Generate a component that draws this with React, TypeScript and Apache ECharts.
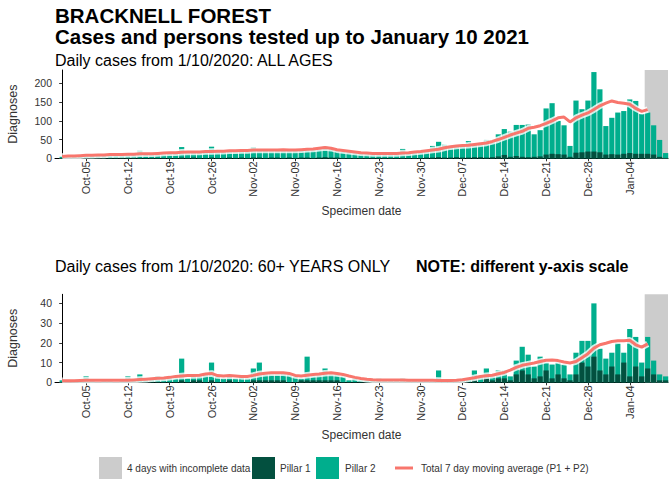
import React, { useEffect, useRef } from 'react';
import * as echarts from 'echarts';

// ---- data (day index 0 = 1 Oct 2020, last = 10 Jan 2021) ----
const startDate = '2020-10-01';
const tickLabels = ['Oct-05', 'Oct-12', 'Oct-19', 'Oct-26', 'Nov-02', 'Nov-09', 'Nov-16', 'Nov-23', 'Nov-30', 'Dec-07', 'Dec-14', 'Dec-21', 'Dec-28', 'Jan-04'];
const incompleteDates = ['Jan-07', 'Jan-08', 'Jan-09', 'Jan-10'];

// ALL AGES: total daily cases (Pillar 1 + Pillar 2) and Pillar 1 part
const totalAll = [
  4, 5, 7, 6, 8, 9, 7, 10, 9, 11,
  8, 10, 12, 20, 11, 12, 13, 10, 14, 13,
  30, 15, 16, 14, 17, 31, 18, 17, 19, 16,
  20, 18, 30, 22, 21, 19, 22, 20, 23, 21,
  22, 24, 22, 25, 32, 28, 20, 17, 18, 14,
  12, 11, 13, 12, 10, 14, 12, 25, 13, 15,
  18, 20, 33, 44, 36, 33, 35, 37, 46, 37,
  40, 49, 46, 64, 78, 71, 89, 89, 90, 64,
  75, 133, 147, 100, 88, 33, 154, 131, 154, 230,
  184, 86, 108, 122, 126, 157, 153, 118, 122, 88, 49, 14,
];
const pillar1All = [
  0, 0, 1, 0, 0, 1, 0, 0, 1, 0,
  0, 1, 0, 1, 0, 1, 1, 0, 1, 1,
  2, 1, 2, 1, 1, 2, 1, 1, 2, 1,
  2, 1, 2, 2, 1, 2, 2, 1, 2, 1,
  2, 2, 1, 2, 3, 2, 2, 1, 1, 1,
  1, 1, 0, 1, 1, 1, 0, 1, 1, 1,
  1, 2, 2, 3, 2, 2, 3, 2, 2, 3,
  3, 2, 3, 5, 9, 4, 6, 4, 3, 4,
  5, 10, 12, 11, 10, 4, 15, 16, 18, 18,
  16, 10, 11, 10, 12, 14, 12, 12, 12, 10, 4, 1,
];
const avgAll = [
  5, 6, 6, 7, 8, 8, 9, 9, 10, 10,
  10, 11, 11, 12, 12, 12, 13, 14, 15, 15,
  16, 17, 17, 17, 18, 18, 19, 19, 20, 20,
  21, 21, 22, 22, 22, 22, 22, 23, 22, 22,
  23, 24, 25, 27, 29, 27, 23, 21, 19, 17,
  15, 14, 13, 13, 13, 13, 13, 14, 15, 17,
  18, 20, 22, 24, 28, 31, 33, 34, 35, 37,
  39, 41, 45, 50, 56, 62, 67, 72, 80, 83,
  87, 93, 100, 108, 110, 97, 108, 115, 121, 130,
  140, 147, 153, 149, 147, 144, 133, 125, 130,
];

// 60+ YEARS ONLY
const totalOld = [
  1, 0, 1, 1, 3, 1, 0, 1, 1, 0,
  1, 3, 1, 4, 1, 2, 3, 2, 3, 2,
  12, 2, 3, 3, 4, 10, 3, 2, 3, 2,
  3, 2, 7, 10, 4, 4, 4, 5, 4, 3,
  2, 13, 3, 4, 7, 4, 5, 3, 1, 2,
  1, 1, 1, 2, 1, 1, 1, 2, 1, 1,
  1, 1, 1, 6, 1, 1, 1, 2, 2, 6,
  3, 7, 3, 6, 6, 3, 11, 18, 14, 8,
  13, 10, 9, 10, 9, 4, 15, 21, 21, 40,
  17, 12, 15, 20, 15, 27, 23, 10, 23, 11, 4, 3,
];
const pillar1Old = [
  0, 0, 0, 0, 0, 0, 0, 0, 0, 0,
  0, 0, 0, 0, 0, 0, 0, 0, 0, 0,
  1, 0, 1, 1, 0, 1, 0, 0, 1, 0,
  0, 0, 1, 1, 1, 1, 1, 1, 0, 0,
  1, 1, 1, 1, 1, 1, 1, 0, 0, 0,
  0, 0, 0, 0, 0, 0, 0, 0, 0, 0,
  0, 0, 0, 1, 0, 0, 0, 0, 0, 1,
  0, 2, 1, 2, 2, 1, 4, 6, 4, 2,
  3, 6, 2, 4, 2, 1, 4, 10, 8, 13,
  6, 4, 8, 4, 10, 3, 8, 3, 7, 4, 1, 1,
];
const avgOld = [
  0.8, 0.8, 0.8, 0.9, 1, 1, 1, 1, 1, 1,
  1, 1, 1.2, 1.4, 1.6, 1.8, 2, 2.2, 2.5, 3,
  3.2, 3.4, 3.5, 3.6, 4.2, 4.5, 3.4, 3.2, 3.4, 3.2,
  3, 2.9, 3.5, 4.2, 4.6, 4.8, 4.9, 4.8, 4.5, 3.5,
  3.2, 3.6, 4, 4.2, 4.6, 4.8, 4.5, 4, 3.2, 2.5,
  1.9, 1.5, 1.3, 1.2, 1.2, 1.2, 1.2, 1.2, 1.1, 1.1,
  1.1, 1.1, 1, 0.9, 0.9, 0.9, 1, 1.3, 1.8, 2.3,
  2.9, 3.3, 3.6, 4.3, 5, 6.2, 7.6, 8.6, 9.2, 9.8,
  10.5, 11.2, 11.3, 11, 10.3, 9.8, 10.5, 12.5, 14.5, 17.3,
  19, 19.8, 20.7, 21, 21.1, 21.3, 19, 17.8, 19.5,
];

const yTicksAll = [0, 50, 100, 150, 200];
const yTicksOld = [0, 10, 20, 30, 40];

// ---- helpers ----
const MONTHS: Record<string, number> = { Oct: 9, Nov: 10, Dec: 11, Jan: 0 };
function dayOffset(label: string): number {
  const [m, d] = label.split('-');
  const y = m === 'Jan' ? 2021 : 2020;
  const [sy, sm, sd] = startDate.split('-').map(Number);
  return Math.round((Date.UTC(y, MONTHS[m], Number(d)) - Date.UTC(sy, sm - 1, sd)) / 86400000);
}
const tickIdx = tickLabels.map(dayOffset);
const labelAt: Record<number, string> = {};
tickLabels.forEach((l, i) => (labelAt[tickIdx[i]] = l));
const bandIdx = incompleteDates.map(dayOffset);

const FONT = "'Liberation Sans', Arial, Helvetica, sans-serif";
const TXT = '#333333';
const C_P1 = '#03503F';
const C_P2 = '#00AE8D';
const C_LINE = '#F8766D';
const C_BAND = '#CCCCCC';

const GRID_LEFT = 55;
const GRID_W = 613;
const GRIDS = [
  { top: 70, height: 88.3 },
  { top: 294.3, height: 88 },
];

const pairs = (arr: number[]) => arr.map((v, i) => [i, v]);

export default function App() {
  const ref = useRef<HTMLDivElement>(null);
  useEffect(() => {
    if (!ref.current) return;
    const chart = echarts.init(ref.current, null, { renderer: 'svg' });

    const xAxis = (gridIndex: number) => ({
      type: 'value',
      gridIndex,
      min: -1.2,
      max: 101.4,
      axisLine: { show: true, onZero: false, lineStyle: { color: '#000', width: 1 } },
      axisTick: { show: true, customValues: tickIdx, length: 3, lineStyle: { color: '#333' } },
      axisLabel: {
        customValues: tickIdx,
        rotate: 90,
        margin: 3,
        fontSize: 11,
        color: TXT,
        fontFamily: FONT,
        formatter: (v: number) => labelAt[Math.round(v)] ?? '',
      },
      splitLine: { show: false },
    });
    const yAxis = (gridIndex: number, max: number, ticks: number[]) => ({
      type: 'value',
      gridIndex,
      min: 0,
      max,
      axisLine: { show: true, lineStyle: { color: '#000', width: 1 } },
      axisTick: { show: true, customValues: ticks, length: 3, lineStyle: { color: '#333' } },
      axisLabel: { customValues: ticks, fontSize: 10.5, color: TXT, fontFamily: FONT, margin: 3 },
      splitLine: { show: false },
    });

    const panelSeries = (idx: number, total: number[], p1: number[], avg: number[]) => [
      {
        name: 'Pillar 2',
        type: 'bar',
        xAxisIndex: idx,
        yAxisIndex: idx,
        barWidth: 5.2,
        barGap: '-100%',
        data: pairs(total),
        itemStyle: { color: C_P2 },
        z: 2,
        markArea: {
          silent: true,
          itemStyle: { color: C_BAND },
          data: [[{ xAxis: Math.min(...bandIdx) - 0.5 }, { xAxis: Math.max(...bandIdx) + 0.5 }]],
        },
      },
      {
        name: 'Pillar 1',
        type: 'bar',
        xAxisIndex: idx,
        yAxisIndex: idx,
        barWidth: 5.2,
        barGap: '-100%',
        data: pairs(p1),
        itemStyle: { color: C_P1 },
        z: 2,
      },
      {
        type: 'line',
        xAxisIndex: idx,
        yAxisIndex: idx,
        data: pairs(avg),
        showSymbol: false,
        symbol: 'none',
        lineStyle: { color: 'rgba(255,255,255,0.8)', width: 6.5 },
        z: 3,
        silent: true,
      },
      {
        type: 'line',
        xAxisIndex: idx,
        yAxisIndex: idx,
        data: pairs(avg),
        showSymbol: false,
        symbol: 'none',
        lineStyle: { color: C_LINE, width: 3 },
        z: 4,
        silent: true,
      },
    ];

    const tStyle = (size: number, bold: boolean) => ({
      fontSize: size,
      fontWeight: bold ? 'bold' : 'normal',
      color: '#000',
      fontFamily: FONT,
    });

    const axisNames = GRIDS.flatMap((g) => [
      {
        type: 'text',
        x: GRID_LEFT + GRID_W / 2,
        y: g.top + g.height + 53,
        style: { text: 'Specimen date', fontSize: 12, fill: TXT, fontFamily: FONT, align: 'center', verticalAlign: 'middle' },
      },
      {
        type: 'text',
        x: 13,
        y: g.top + g.height / 2,
        rotation: Math.PI / 2,
        style: { text: 'Diagnoses', fontSize: 12.5, fill: TXT, fontFamily: FONT, align: 'center', verticalAlign: 'middle' },
      },
    ]);

    const lgY = 457;
    const lgText = (x: number, text: string) => ({
      type: 'text',
      x,
      y: lgY + 11,
      style: { text, fontSize: 10, fill: TXT, fontFamily: FONT, verticalAlign: 'middle' },
    });

    chart.setOption({
      animation: false,
      backgroundColor: '#fff',
      title: [
        { text: 'BRACKNELL FOREST', left: 55, top: 5, padding: 0, textStyle: tStyle(20.5, true) },
        { text: 'Cases and persons tested up to January 10 2021', left: 55, top: 26, padding: 0, textStyle: tStyle(20.5, true) },
        { text: 'Daily cases from 1/10/2020: ALL AGES', left: 55, top: 52, padding: 0, textStyle: tStyle(16, false) },
        { text: 'Daily cases from 1/10/2020: 60+ YEARS ONLY', left: 55, top: 258, padding: 0, textStyle: tStyle(16, false) },
        { text: 'NOTE: different y-axis scale', left: 416, top: 258, padding: 0, textStyle: tStyle(16, true) },
      ],
      grid: GRIDS.map((g) => ({ left: GRID_LEFT, top: g.top, width: GRID_W, height: g.height })),
      xAxis: [xAxis(0), xAxis(1)],
      yAxis: [yAxis(0, 235.5, yTicksAll), yAxis(1, 44.6, yTicksOld)],
      series: [
        ...panelSeries(0, totalAll, pillar1All, avgAll),
        ...panelSeries(1, totalOld, pillar1Old, avgOld),
      ],
      graphic: [
        ...axisNames,
        { type: 'rect', shape: { x: 99, y: lgY, width: 23, height: 22 }, style: { fill: C_BAND } },
        lgText(127, '4 days with incomplete data'),
        { type: 'rect', shape: { x: 252, y: lgY, width: 23, height: 22 }, style: { fill: C_P1 } },
        lgText(280, 'Pillar 1'),
        { type: 'rect', shape: { x: 316, y: lgY, width: 23, height: 22 }, style: { fill: C_P2 } },
        lgText(345, 'Pillar 2'),
        { type: 'line', shape: { x1: 395, y1: lgY + 11, x2: 413, y2: lgY + 11 }, style: { stroke: C_LINE, lineWidth: 3 } },
        lgText(421, 'Total 7 day moving average (P1 + P2)'),
      ],
    });
    return () => chart.dispose();
  }, []);
  return <div ref={ref} style={{ position: 'absolute', left: 0, top: 0, width: 670, height: 485 }} />;
}
